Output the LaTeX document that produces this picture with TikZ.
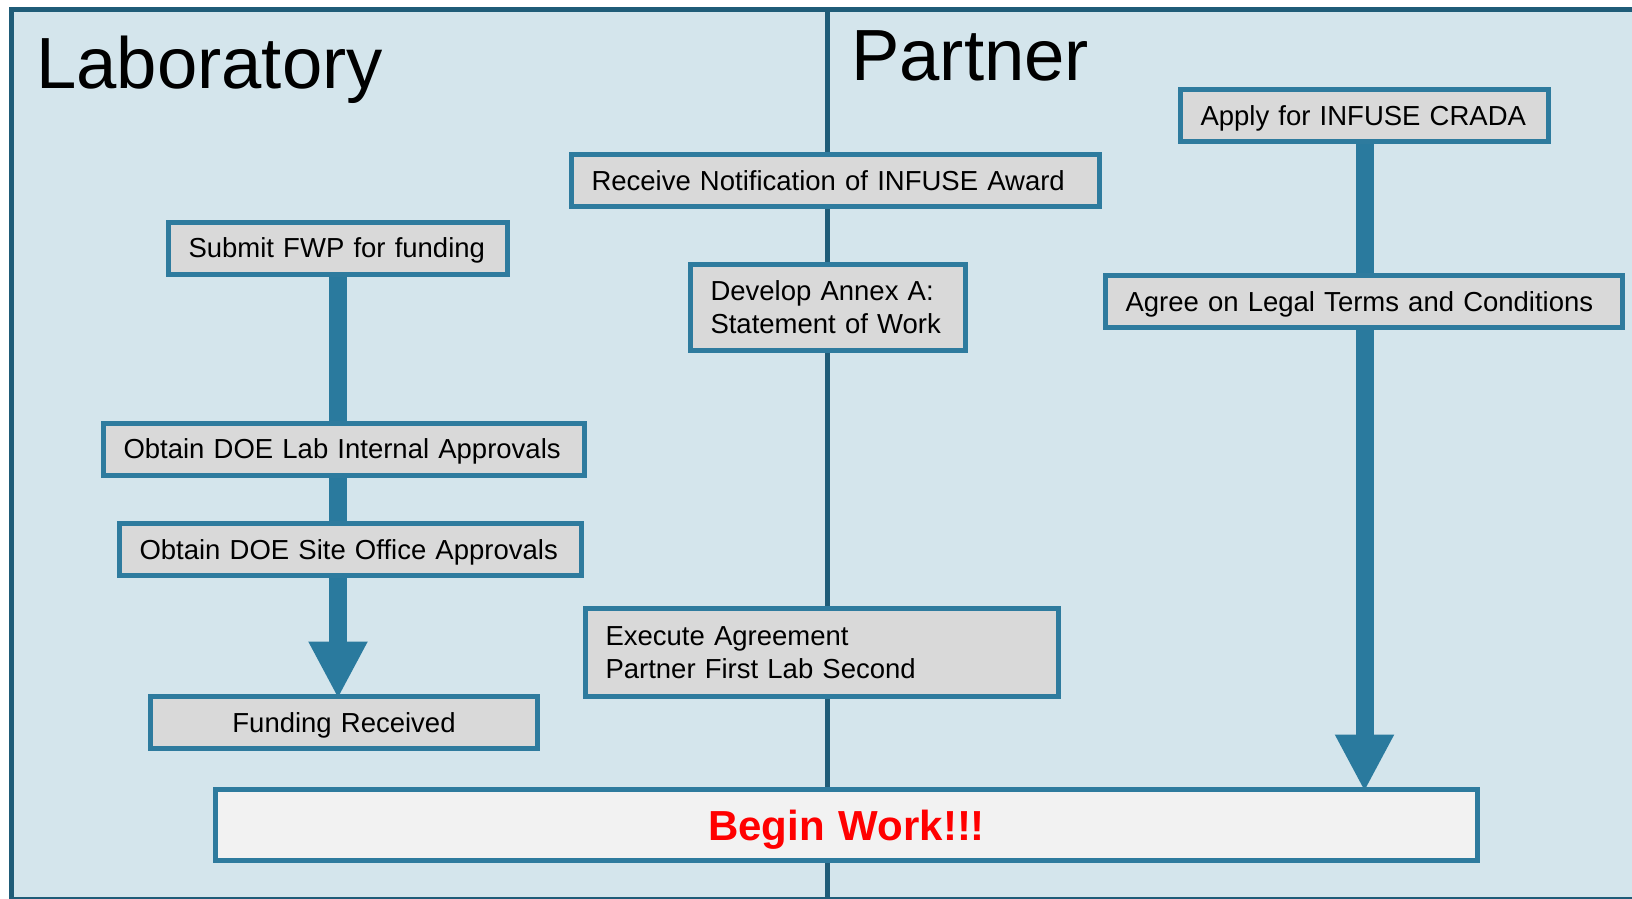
\documentclass[tikz,border=0pt]{standalone}
\usepackage{fontspec}
\setmainfont{Liberation Sans}
\usetikzlibrary{arrows.meta,backgrounds}
\definecolor{bgblue}{HTML}{D4E5EC}
\definecolor{framecol}{HTML}{1F5C78}
\definecolor{boxline}{HTML}{2E7B9E}
\definecolor{arrowcol}{HTML}{2A7A9E}
\definecolor{boxfill}{HTML}{D9D9D9}
\definecolor{beginfill}{HTML}{F2F2F2}
\tikzset{
  stepbox/.style={draw=boxline, fill=boxfill, line width=5pt, inner xsep=20pt, inner ysep=0pt,
    minimum height=52pt, align=left, text height=19.7pt, text depth=0pt,
    font=\fontsize{27.5}{33}\selectfont},
  twoline/.style={text depth=33pt},
  bigflow/.style={draw=arrowcol, line width=18pt, -{Triangle[width=55pt,length=57pt]}},
  lanetitle/.style={anchor=base west, inner sep=0pt, font=\fontsize{72.5}{80}\selectfont}
}
\begin{document}
\begin{tikzpicture}[x=1pt,y=-1pt]
    \useasboundingbox (0,0) rectangle (1632,898);
    \node[lanetitle] (lab) at (36,88) {Laboratory};
    \node[lanetitle] (partner) at (851,80) {Partner};
    % Pasos del acuerdo
    \node[stepbox, text width=328pt] (apply) at (1364.5,115.5) {Apply for INFUSE CRADA};
    \node[stepbox, text width=488pt] (notify) at (835.5,180.5) {Receive Notification of INFUSE Award};
    \node[stepbox, text width=299pt] (fwp) at (338,248) {Submit FWP for funding};
    \node[stepbox, twoline, text width=235pt, minimum height=86pt] (annex) at (828,307.5) {Develop Annex A:\\Statement of Work};
    \node[stepbox, text width=477pt] (legal) at (1364,301.5) {Agree on Legal Terms and Conditions};
    \node[stepbox, text width=441pt] (labok) at (344,449) {Obtain DOE Lab Internal Approvals};
    \node[stepbox, text width=422pt] (siteok) at (350.5,549.5) {Obtain DOE Site Office Approvals};
    \node[stepbox, twoline, text width=433pt, minimum height=88pt] (execute) at (822,652.5) {Execute Agreement\\Partner First Lab Second};
    \node[stepbox, text width=347pt, align=center] (funded) at (344,722.5) {Funding Received};
    \node[stepbox, fill=beginfill, text width=1222pt, align=center, minimum height=71pt, text height=30pt,
      font=\fontsize{42}{48}\selectfont\bfseries, text=red] (begin) at (846.5,825) {Begin Work!!!};
    \path (fwp.south |- funded.north) ++(0,4.5) coordinate (tipL);
    \path (apply.south |- begin.north) ++(0,4.5) coordinate (tipR);
    \begin{scope}[on background layer]
        \draw[framecol, fill=bgblue, line width=5pt] (11.3,9.5) rectangle (1650,899);
        \coordinate (divtop) at (827,9.5);
        \coordinate (divbot) at (827,899);
        \draw[framecol, line width=5pt] (divtop) -- (divbot);
        \draw[bigflow] (fwp.south) -- (tipL);
        \draw[bigflow] (apply.south) -- (tipR);
    \end{scope}
\end{tikzpicture}
\end{document}
